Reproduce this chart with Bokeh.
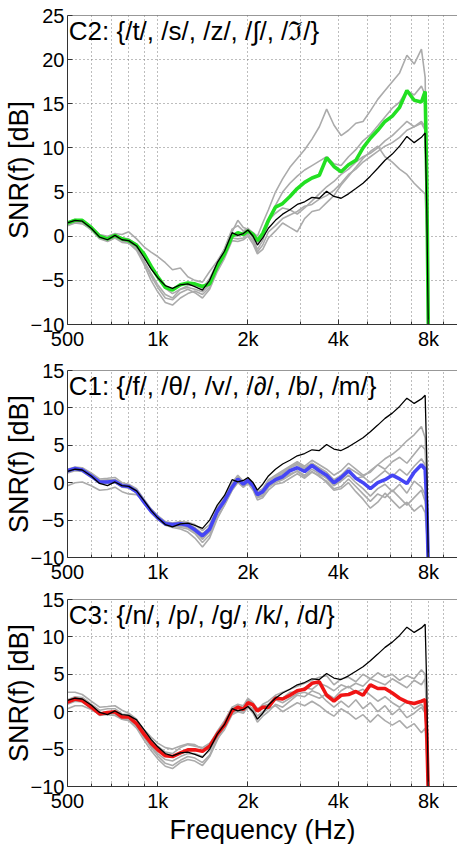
from bokeh.plotting import figure
from bokeh.layouts import column
from bokeh.models import Range1d, FixedTicker, CustomJSTickFormatter, Label, Span
from bokeh.embed import file_html
from bokeh.resources import INLINE

# ---------------- data ----------------
freq = [500, 530, 560, 600, 640, 680, 720, 760, 800, 850,
        900, 950, 1000, 1060, 1120, 1190, 1260, 1330, 1410, 1490,
        1580, 1670, 1770, 1850, 1930, 2000, 2080, 2150, 2240, 2340,
        2470, 2610, 2760, 2920, 3090, 3270, 3460, 3660, 3870, 4090,
        4330, 4580, 4840, 5120, 5420, 5730, 6060, 6410, 6780, 7170,
        7580, 7800, 7900, 8000]

# overall average (black), identical in all panels
snr_all = [1.5, 1.8, 1.7, 0.9, -0.1, -0.4, 0.1, -0.4, -0.5, -1.1,
           -2.4, -3.7, -4.7, -5.6, -5.9, -5.5, -5.4, -5.7, -6.1, -5.0,
           -3.0, -1.7, 0.4, 0.1, 0.3, 0.7, 0.0, -1.0, -0.2, 0.9,
           1.8, 2.5, 3.0, 3.6, 3.9, 4.4, 4.3, 5.1, 4.5, 4.3,
           4.8, 5.4, 6.0, 6.8, 7.7, 8.6, 9.3, 10.2, 11.3, 10.6,
           11.2, 11.7, 3.0, -12.0]

# C2 group
c2_mean = [1.5, 1.8, 1.8, 1.0, 0.0, -0.3, 0.1, -0.3, -0.5, -1.0,
           -2.0, -3.4, -4.6, -5.8, -6.1, -5.5, -5.3, -5.4, -5.7, -5.4,
           -3.4, -2.0, 0.0, 0.4, 0.2, 0.6, 0.2, -0.5, 0.3, 1.8,
           3.3, 3.7, 4.5, 5.4, 6.1, 6.6, 6.9, 8.9, 7.9, 7.3,
           8.1, 8.6, 10.0, 11.1, 12.0, 13.0, 13.6, 14.6, 16.5, 15.4,
           15.2, 16.4, 6.0, -12.0]
c2_gray_1 = [1.4, 1.7, 1.6, 1.0, 0.2, 0.0, 0.3, 0.2, 0.5, -0.3,
             -1.2, -1.8, -2.3, -3.0, -3.8, -3.6, -4.6, -5.0, -5.2, -4.0,
             -2.8, -1.5, 0.5, 1.8, 1.0, 0.8, 0.4, 0.0, 1.5, 3.0,
             5.0, 6.5, 7.8, 8.8, 9.8, 11.0, 12.4, 14.4, 12.6, 11.4,
             12.0, 12.8, 13.0, 14.2, 15.5, 16.5, 17.5, 18.5, 20.5, 19.5,
             21.2, 18.0, 5.0, -12.0]
c2_gray_2 = [1.6, 1.9, 1.8, 1.1, 0.1, -0.2, 0.0, -0.5, -0.6, -1.3,
             -2.8, -4.2, -5.5, -6.6, -7.0, -6.0, -5.8, -6.0, -6.3, -5.5,
             -3.5, -1.8, 0.3, 0.0, 0.5, 0.8, -0.3, -1.5, -0.5, 1.5,
             3.5, 5.0, 6.0, 6.8, 7.5, 8.0, 8.5, 9.0, 8.2, 8.0,
             9.0, 9.8, 10.8, 11.5, 12.5, 13.5, 14.5, 15.2, 16.5, 16.0,
             17.0, 16.0, 4.0, -12.0]
c2_gray_3 = [1.3, 1.6, 1.5, 0.7, -0.3, -0.6, -0.2, -0.7, -0.8, -1.6,
             -3.2, -5.0, -6.3, -7.5, -7.8, -7.0, -6.5, -6.2, -6.6, -5.8,
             -3.8, -2.2, -0.2, -0.3, -0.2, 0.3, -0.6, -1.8, -1.0, 0.5,
             1.2, 2.0, 2.4, 2.8, 3.4, 3.6, 4.2, 4.6, 5.2, 6.0,
             7.0, 7.6, 8.4, 9.0, 9.6, 10.2, 10.6, 11.2, 12.0, 12.4,
             12.8, 12.0, 3.0, -12.0]
c2_gray_4 = [1.2, 1.5, 1.4, 0.8, -0.2, -0.5, -0.1, -0.5, -0.7, -1.4,
             -2.9, -4.5, -5.8, -7.0, -7.2, -6.4, -6.0, -6.4, -7.0, -6.0,
             -4.0, -2.5, -0.5, -0.6, -0.4, 0.0, -0.9, -2.0, -1.5, -0.2,
             0.6, 1.5, 1.0, 0.5, 2.0, 2.8, 3.0, 3.8, 4.6, 5.8,
             6.8, 7.8, 8.8, 9.6, 10.2, 9.0, 8.4, 7.6, 7.0, 6.0,
             5.2, 4.8, 0.0, -12.0]
c2_gray_5 = [1.5, 1.8, 1.7, 0.9, 0.0, -0.3, 0.2, -0.2, -0.3, -0.9,
             -2.0, -3.3, -4.5, -5.9, -6.5, -6.0, -5.6, -5.5, -5.9, -4.8,
             -3.0, -1.4, 0.8, 1.2, 0.6, 0.9, 0.3, -0.8, 0.0, 1.8,
             2.6, 3.2, 3.0, 2.5, 3.2, 4.0, 4.8, 5.6, 6.2, 7.0,
             7.6, 8.4, 9.0, 9.4, 10.0, 10.8, 11.4, 12.2, 13.0, 12.4,
             13.0, 12.4, 3.0, -12.0]

# C1 group
c1_mean = [1.6, 1.9, 1.7, 0.9, 0.1, 0.1, 0.2, -0.4, -0.5, -1.2,
           -2.6, -3.8, -4.7, -5.5, -5.6, -5.5, -5.7, -6.3, -7.1, -6.2,
           -3.8, -2.4, -0.6, 0.5, -0.2, 0.3, -0.4, -1.6, -1.2, -0.2,
           0.4, 0.8, 1.6, 2.0, 1.5, 2.3, 1.6, 1.0, 0.0, 0.7,
           1.6, 0.6, 0.0, -0.8, 0.0, 0.4, 1.0, 0.5, -0.1, 1.4,
           2.4, 1.8, -3.0, -12.0]
c1_gray_1 = [-0.4, 0.0, 0.1, -0.4, -1.0, -0.9, -0.6, -1.2, -1.5, -1.6,
             -2.5, -3.6, -4.5, -5.2, -5.8, -6.0, -6.2, -6.8, -8.0, -7.0,
             -4.6, -3.0, -1.0, 0.0, -0.6, 0.0, -0.8, -2.0, -1.8, -0.6,
             0.2, 0.5, 1.2, 1.5, 0.8, 1.5, 0.8, 0.2, -0.8, -0.5,
             0.5, -0.5, -1.5, -2.5, -1.5, -2.0, -1.0, -2.0, -3.0, -2.0,
             -1.0, -2.5, -6.0, -12.0]
c1_gray_2 = [1.8, 2.1, 2.0, 1.3, 0.5, 0.6, 0.7, 0.0, -0.2, -0.8,
             -2.2, -3.5, -4.4, -5.2, -5.4, -5.2, -5.3, -5.6, -6.4, -5.6,
             -3.4, -1.8, 0.0, 1.0, 0.2, 0.6, 0.0, -1.2, -0.8, 0.4,
             1.0, 1.6, 2.2, 2.8, 2.2, 3.0, 2.4, 1.8, 1.0, 1.6,
             2.6, 1.8, 1.0, 1.4, 2.4, 3.2, 3.8, 4.6, 5.6, 6.4,
             7.5, 6.0, 0.0, -12.0]
c1_gray_3 = [1.4, 1.8, 1.7, 1.0, 0.3, 0.4, 0.4, -0.2, -0.4, -1.0,
             -2.4, -3.7, -4.6, -5.5, -5.9, -5.8, -6.0, -6.6, -7.6, -6.6,
             -4.2, -2.6, -0.8, 0.4, -0.4, 0.2, -0.6, -1.8, -1.4, -0.4,
             0.6, 1.2, 2.0, 2.6, 2.0, 2.6, 1.8, 0.6, -0.4, 0.4,
             1.4, 0.6, 0.8, 1.6, 2.4, 1.8, 2.8, 3.4, 2.6, 3.8,
             5.0, 4.4, -1.0, -12.0]
c1_gray_4 = [1.5, 1.8, 1.6, 0.8, 0.0, 0.0, 0.1, -0.5, -0.7, -1.4,
             -2.8, -4.0, -4.9, -5.7, -6.0, -6.2, -6.6, -7.4, -8.6, -7.4,
             -4.8, -3.0, -1.0, 0.2, -0.6, -0.1, -1.0, -2.3, -2.0, -1.0,
             -0.2, 0.0, 0.6, 1.2, 0.6, 1.4, 1.0, 0.0, -1.0, -0.8,
             0.0, -1.2, -2.2, -3.4, -2.6, -1.4, -2.4, -3.4, -2.6, -3.8,
             -3.0, -4.0, -7.0, -12.0]
c1_gray_5 = [1.7, 2.0, 1.9, 1.1, 0.3, 0.3, 0.4, -0.2, -0.3, -1.0,
             -2.4, -3.6, -4.5, -5.4, -5.6, -5.4, -5.6, -6.0, -6.8, -6.0,
             -3.6, -2.0, -0.3, 0.8, 0.0, 0.5, -0.2, -1.4, -1.0, 0.2,
             0.8, 1.4, 2.0, 2.4, 1.8, 2.6, 2.0, 1.4, 0.4, 1.0,
             2.0, 1.4, 0.8, 0.0, 0.8, 1.6, 0.8, 1.8, 1.0, 2.2,
             3.2, 2.4, -2.0, -12.0]
c1_gray_6 = [1.3, 1.6, 1.5, 0.7, -0.1, -0.1, 0.0, -0.6, -0.7, -1.3,
             -2.7, -3.9, -4.8, -5.6, -5.8, -5.7, -5.9, -6.5, -7.4, -6.4,
             -4.0, -2.5, -0.7, 0.3, -0.3, 0.1, -0.6, -1.9, -1.6, -0.6,
             0.0, 0.4, 1.0, 1.6, 1.0, 1.8, 1.2, 0.6, -0.4, 0.2,
             1.0, 0.0, -0.8, -1.8, -0.8, -0.2, -1.2, -0.2, -1.4, 0.2,
             -0.6, -1.6, -5.0, -12.0]

# C3 group
c3_mean = [1.3, 1.7, 1.5, 0.6, -0.3, -0.1, 0.0, -0.7, -0.7, -1.6,
           -3.0, -4.2, -5.1, -5.9, -6.0, -5.5, -5.1, -5.1, -5.3, -4.6,
           -3.0, -1.8, 0.1, 0.6, 0.3, 1.2, 0.9, 0.1, 0.6, 0.6,
           1.8, 1.7, 2.2, 2.8, 3.0, 3.8, 4.0, 2.2, 1.4, 2.2,
           2.3, 2.7, 2.2, 3.6, 3.1, 3.1, 2.5, 1.8, 1.3, 1.1,
           1.4, 1.6, -3.0, -12.0]
c3_gray_1 = [2.6, 2.6, 2.3, 1.4, 0.6, 0.7, 0.8, 0.2, -0.2, -1.0,
             -2.6, -3.8, -4.6, -5.4, -5.6, -4.8, -4.4, -4.6, -4.8, -4.2,
             -2.8, -1.4, 0.4, 0.8, 0.6, 1.6, 1.0, 0.2, 1.0, 1.4,
             2.2, 2.6, 3.0, 3.4, 3.8, 4.2, 4.6, 4.8, 3.6, 4.4,
             4.6, 4.0, 5.0, 4.4, 5.2, 4.6, 5.0, 4.2, 4.8, 4.4,
             5.6, 5.0, 0.0, -12.0]
c3_gray_2 = [0.4, 0.8, 0.8, 0.3, -0.4, -0.4, -0.5, -1.0, -1.1, -1.9,
             -3.4, -4.8, -5.9, -6.9, -7.2, -6.5, -6.0, -6.2, -6.8, -5.8,
             -3.6, -2.4, -0.4, 0.0, -0.2, 0.6, -0.2, -1.4, -0.6, 0.0,
             1.0, 0.6, 1.4, 2.2, 2.0, 2.8, 2.4, 1.4, 0.6, 1.4,
             0.6, 1.6, 0.4, 1.2, 0.0, 0.8, -0.4, 0.4, -0.8, -0.2,
             0.6, -0.2, -4.0, -12.0]
c3_gray_3 = [1.0, 1.4, 1.3, 0.5, -0.5, -0.3, -0.3, -1.0, -1.2, -2.2,
             -3.8, -5.2, -6.3, -7.3, -7.6, -6.8, -6.4, -6.6, -7.2, -6.0,
             -3.8, -2.0, 0.0, 0.4, 0.2, 1.0, 0.2, -1.0, -0.2, 0.4,
             0.8, 0.0, 0.6, 1.2, 0.8, 1.4, 0.8, 0.0, -0.6, 0.4,
             -0.2, -1.0, -0.4, -1.4, -0.4, -1.2, -1.8, -1.2, -2.2, -1.6,
             -2.8, -2.2, -6.0, -12.0]
c3_gray_4 = [1.6, 2.0, 1.9, 1.0, 0.2, 0.4, 0.4, -0.3, -0.4, -1.1,
             -2.4, -3.4, -4.2, -4.8, -5.0, -4.6, -4.3, -4.4, -5.0, -4.4,
             -2.6, -1.2, 0.6, 1.0, 0.8, 1.8, 1.2, 0.4, 0.8, 1.0,
             2.0, 1.8, 2.6, 2.6, 3.2, 3.0, 3.8, 3.4, 2.8, 3.6,
             3.2, 3.8, 3.4, 4.4, 4.0, 3.6, 4.4, 3.8, 3.2, 4.2,
             3.6, 4.4, -1.0, -12.0]
c3_gray_5 = [1.2, 1.5, 1.4, 0.6, -0.2, -0.2, -0.1, -0.8, -0.9, -1.8,
             -3.4, -4.6, -5.6, -6.4, -6.6, -6.0, -5.6, -5.6, -6.0, -5.2,
             -3.4, -1.9, -0.2, 0.2, 0.0, 0.8, 0.4, -0.6, 0.0, 0.8,
             1.6, 1.2, 1.8, 2.4, 2.6, 2.2, 1.8, 2.4, 1.8, 2.8,
             3.4, 2.6, 3.0, 2.2, 1.4, 2.0, 1.2, 0.6, 1.4, 0.4,
             1.0, 0.2, -4.0, -12.0]

titles = ["C2: {/t/, /s/, /z/, /\u222b/, /\u2111/}",
          "C1: {/f/, /\u03b8/, /v/, /\u2202/, /b/, /m/}",
          "C3: {/n/, /p/, /g/, /k/, /d/}"]
x_tick_values = [500, 1000, 2000, 4000, 8000]
x_tick_labels = ["500", "1k", "2k", "4k", "8k"]
x_minor_values = [600, 700, 800, 900, 3000, 5000, 6000, 7000, 9000]
y_label = "SNR(f) [dB]"
x_label = "Frequency (Hz)"

FONT = "Liberation Sans"
GRAY = "#ababab"


def make_panel(title, mean, grays, color, ymax, frame_h, top, bottom, show_xlabel):
    p = figure(x_axis_type="log", width=457, frame_width=390, frame_height=frame_h,
               x_range=Range1d(500, 10000), y_range=Range1d(-10, ymax),
               output_backend="svg", toolbar_location=None,
               min_border_left=67, min_border_right=0,
               min_border_top=top, min_border_bottom=bottom)
    p.outline_line_color = None
    p.background_fill_color = "white"
    p.border_fill_color = "white"

    xt = FixedTicker(ticks=x_tick_values, minor_ticks=x_minor_values)
    p.xaxis.ticker = xt
    p.xgrid.ticker = xt
    p.xaxis.formatter = CustomJSTickFormatter(
        args=dict(vals=x_tick_values, labs=x_tick_labels),
        code="const i = vals.indexOf(tick); return i >= 0 ? labs[i] : '';")
    yt = FixedTicker(ticks=list(range(-10, ymax + 1, 5)))
    p.yaxis.ticker = yt
    p.ygrid.ticker = yt
    p.yaxis.formatter = CustomJSTickFormatter(
        code="return tick < 0 ? '\u2212' + Math.abs(tick) : String(tick);")

    for ax in (p.xaxis[0], p.yaxis[0]):
        ax.axis_line_color = "#333333"
        ax.major_tick_line_color = "#333333"
        ax.minor_tick_line_color = "#333333"
        ax.major_tick_in = 5
        ax.major_tick_out = 0
        ax.minor_tick_in = 3
        ax.minor_tick_out = 0
        ax.major_label_text_font = FONT
        ax.major_label_text_font_size = "20px"
        ax.major_label_text_color = "black"
        ax.axis_label_text_font = FONT
        ax.axis_label_text_font_size = "27px"
        ax.axis_label_text_font_style = "normal"
        ax.axis_label_text_color = "black"
    p.yaxis.minor_tick_line_color = None
    p.yaxis.major_label_standoff = 3
    p.yaxis.axis_label = y_label
    p.yaxis.axis_label_standoff = -6
    p.xaxis.major_label_standoff = 3
    if show_xlabel:
        p.xaxis.axis_label = x_label
        p.xaxis.axis_label_standoff = 0

    for g in (p.xgrid, p.ygrid):
        g.grid_line_color = "#7a7a7a"
        g.grid_line_dash = "1 3"
        g.grid_line_width = 1
    p.xgrid.minor_grid_line_color = "#7a7a7a"
    p.xgrid.minor_grid_line_dash = "1 3"

    for gy in grays:
        p.line(freq, gy, line_color=GRAY, line_width=1.6)
    p.line(freq, mean, line_color=color, line_width=3.6)
    p.line(freq, snr_all, line_color="black", line_width=1.3)

    p.add_layout(Span(location=ymax, dimension="width", line_color="#333333", line_width=1))
    p.add_layout(Label(x=505, y=ymax - 0.1, text=title, text_baseline="top",
                       text_font=FONT, text_font_size="26px", text_color="black"))
    return p


p1 = make_panel(titles[0], c2_mean, [c2_gray_1, c2_gray_2, c2_gray_3, c2_gray_4, c2_gray_5],
                "#22e022", 25, 309, 15, 30, False)
p2 = make_panel(titles[1], c1_mean, [c1_gray_1, c1_gray_2, c1_gray_3, c1_gray_4, c1_gray_5, c1_gray_6],
                "#4545f5", 15, 187, 16, 30, False)
p3 = make_panel(titles[2], c3_mean, [c3_gray_1, c3_gray_2, c3_gray_3, c3_gray_4, c3_gray_5],
                "#f01414", 15, 187, 12, 57, True)

layout = column(p1, p2, p3, spacing=0)
open("out.html", "w").write(file_html(layout, INLINE))
